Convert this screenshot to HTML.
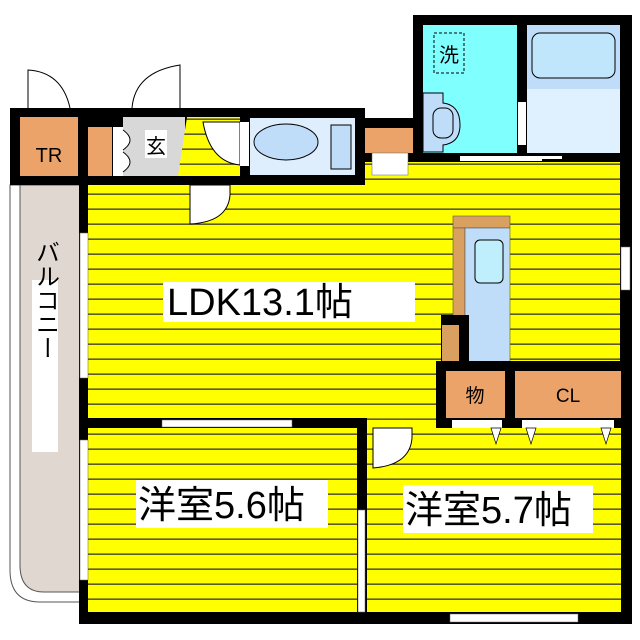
<!DOCTYPE html><html><head><meta charset="utf-8"><style>body{margin:0;background:#fff}svg{display:block}text{font-family:"Liberation Sans","Noto Sans CJK JP",sans-serif}</style></head><body>
<svg width="640" height="640" viewBox="0 0 640 640" xmlns="http://www.w3.org/2000/svg">
<defs><pattern id="st" x="0" y="0" width="10" height="15" patternUnits="userSpaceOnUse"><rect width="10" height="15" fill="#ffff00"/><rect y="13.5" width="10" height="1.3" fill="#333"/></pattern></defs>
<!-- balcony -->
<path d="M10 185 H80 V602 H40 Q10 602 10 570 Z" fill="#fff" stroke="#555" stroke-width="1"/>
<path d="M20 185 H80 V592 H44 Q20 592 20 565 Z" fill="#e0d8d0" stroke="#555" stroke-width="1"/>
<rect x="32" y="280" width="26" height="172" fill="#fff"/>
<text x="45" y="300" font-size="24" text-anchor="middle" writing-mode="tb">バルコニー</text>
<!-- walls main -->
<rect x="10" y="108" width="355" height="77" fill="#000"/>
<rect x="355" y="118" width="60" height="67" fill="#000"/>
<rect x="413" y="15" width="219" height="147" fill="#000"/>
<rect x="79" y="162" width="553" height="462" fill="#000"/>
<!-- TR -->
<rect x="20" y="117" width="58" height="59" fill="#eba36a"/>
<text x="49" y="162" font-size="20" text-anchor="middle">TR</text>
<rect x="88" y="127" width="24" height="49" fill="#eba36a"/>
<rect x="113" y="127" width="10" height="49" fill="#fff"/>
<rect x="123" y="117" width="62" height="59" fill="#d8d8d8"/>
<rect x="145" y="130" width="22" height="28" fill="#fff"/>
<text x="156" y="153" font-size="20" text-anchor="middle">玄</text>
<path d="M123 130 Q137 140 123 150 M123 152 Q137 162 123 172" fill="#fff" stroke="#000"/>
<!-- entry corridor -->
<path d="M187 117 H240 V176 H178 Z" fill="url(#st)"/>
<path d="M203 122 H240 V165 Q210 162 203 122Z" fill="#fff" stroke="#000"/>
<rect x="240" y="122" width="9" height="44" fill="#fff"/>
<!-- toilet -->
<rect x="250" y="118" width="105" height="57" fill="#dfeefc"/>
<ellipse cx="286" cy="142" rx="32" ry="18" fill="#bfdcf8" stroke="#000"/>
<rect x="331" y="125" width="20" height="44" fill="#bfdcf8" stroke="#000"/>
<rect x="365" y="128" width="48" height="25" fill="#eba36a"/>
<!-- wet -->
<rect x="423" y="25" width="94" height="128" fill="#80ffff"/>
<rect x="434" y="33" width="30" height="40" fill="none" stroke="#000" stroke-dasharray="3,2"/>
<text x="449" y="62" font-size="20" text-anchor="middle">洗</text>
<path d="M423 93 H443 V103 Q460 105 460 125 Q460 143 443 145 V152 H423Z" fill="#bfdcf8" stroke="#000"/>
<rect x="433" y="108" width="20" height="30" rx="8" fill="#bfdcf8" stroke="#000"/>
<rect x="527" y="25" width="93" height="128" fill="#dff0ff"/>
<rect x="527" y="25" width="93" height="64" fill="#bfdcf8"/>
<rect x="532" y="33" width="83" height="45" rx="8" fill="#bfe6fb" stroke="#000"/>
<rect x="518" y="102" width="8" height="43" fill="#fff"/>
<rect x="460" y="156" width="82" height="5" fill="#fff"/>
<rect x="512" y="156" width="50" height="3" fill="#fff"/>
<!-- LDK -->
<rect x="88" y="185" width="532" height="233" fill="url(#st)"/>
<rect x="365" y="162" width="255" height="23" fill="url(#st)"/>
<rect x="372" y="153" width="36" height="22" fill="#fff" stroke="#666" stroke-width=".5"/>
<path d="M190 185 H230 V195 Q228 222 190 224Z" fill="#fff" stroke="#000"/>
<rect x="80" y="233" width="8" height="145" fill="#fff" stroke="#666" stroke-width=".5"/>
<rect x="621" y="247" width="9" height="43" fill="#fff" stroke="#666" stroke-width=".5"/>
<rect x="163" y="282" width="252" height="40" fill="#fff"/>
<text x="167" y="315" font-size="38">LDK13.1帖</text>
<!-- kitchen -->
<rect x="453" y="216" width="57" height="12" fill="#d9a060" stroke="#555" stroke-width=".6"/>
<rect x="453" y="228" width="12" height="90" fill="#d9a060" stroke="#555" stroke-width=".6"/>
<rect x="465" y="228" width="45" height="134" fill="#bfdcf8" stroke="#555" stroke-width=".6"/>
<rect x="475" y="240" width="28" height="43" rx="5" fill="#bfeefc" stroke="#000"/>
<rect x="441" y="315" width="28" height="47" fill="#000"/>
<rect x="442" y="325" width="17" height="37" fill="#d9a060"/>
<rect x="436" y="361" width="194" height="67" fill="#000"/>
<rect x="446" y="371" width="59" height="47" fill="#eba36a"/>
<text x="475" y="402" font-size="19" text-anchor="middle">物</text>
<rect x="515" y="371" width="106" height="47" fill="#eba36a"/>
<text x="568" y="402" font-size="19" text-anchor="middle">CL</text>
<!-- lower rooms -->
<rect x="88" y="428" width="269" height="184" fill="url(#st)"/>
<rect x="367" y="428" width="254" height="184" fill="url(#st)"/>
<rect x="367" y="418" width="69" height="10" fill="url(#st)"/>
<rect x="162" y="420" width="130" height="7" fill="#fff" stroke="#666" stroke-width=".5"/>
<rect x="452" y="420" width="50" height="8" fill="#fff"/><rect x="522" y="420" width="92" height="8" fill="#fff"/>
<path d="M491 428 l5 16 l5 -16Z M526 428 l5 16 l5 -16Z M601 428 l5 16 l5 -16Z" fill="#fff" stroke="#000" stroke-width=".7"/>
<path d="M373 428 H412 V438 Q410 465 373 468Z" fill="#fff" stroke="#000"/>
<rect x="80" y="440" width="8" height="140" fill="#fff" stroke="#666" stroke-width=".5"/>
<rect x="358" y="510" width="7" height="102" fill="#fff" stroke="#666" stroke-width=".5"/>
<rect x="450" y="614" width="128" height="8" fill="#fff" stroke="#666" stroke-width=".5"/>
<rect x="136" y="480" width="192" height="48" fill="#fff"/>
<text x="138" y="518" font-size="38">洋室5.6帖</text>
<rect x="403" y="485" width="190" height="48" fill="#fff"/>
<text x="405" y="523" font-size="38">洋室5.7帖</text>
<!-- outer doors -->
<path d="M28 108 V70 Q62 72 70 108" fill="#fff" stroke="#000"/>
<path d="M132 108 Q135 72 180 65 V108" fill="#fff" stroke="#000"/>
</svg></body></html>
